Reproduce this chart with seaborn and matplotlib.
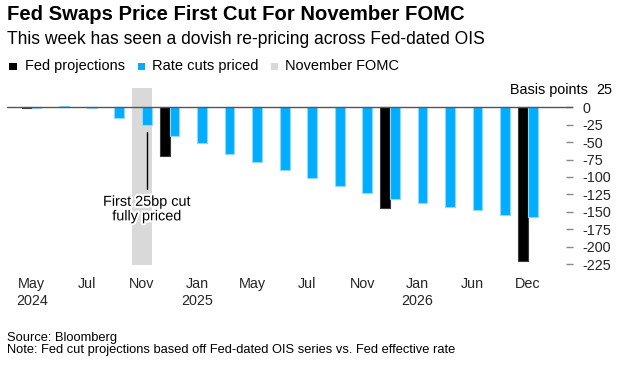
import matplotlib
matplotlib.use("Agg")
import matplotlib.pyplot as plt
import matplotlib.patheffects as pe
from matplotlib.patches import Rectangle
import seaborn as sns
import pandas as pd

# ---- data ----
meetings = ["2024-05", "2024-06", "2024-07", "2024-09", "2024-11", "2024-12",
            "2025-01", "2025-03", "2025-05", "2025-06", "2025-07", "2025-09",
            "2025-11", "2025-12", "2026-01", "2026-03", "2026-06", "2026-09",
            "2026-12"]
rate_cuts_priced = [-1, 2, -1, -15, -25, -41, -52, -67, -78, -90, -102, -113,
                    -123, -131, -138, -143, -148, -154, -157]
fed_meetings = ["2024-05", "2024-12", "2025-12", "2026-12"]
fed_projections = [-1, -70, -145, -220]
tick_labels = ["May\n2024", "Jul", "Nov", "Jan\n2025", "May", "Jul", "Nov",
               "Jan\n2026", "Jun", "Dec"]
y_ticks = [0, -25, -50, -75, -100, -125, -150, -175, -200, -225]
highlight_meeting = "2024-11"

series_names = ["Fed projections", "Rate cuts priced"]
colors = {"Fed projections": "#000000", "Rate cuts priced": "#00adff"}
band_color = "#d9d9d9"

df = pd.concat([
    pd.DataFrame({"meeting": fed_meetings, "bp": fed_projections,
                  "series": "Fed projections"}),
    pd.DataFrame({"meeting": meetings, "bp": rate_cuts_priced,
                  "series": "Rate cuts priced"}),
], ignore_index=True)

# ---- style ----
sns.set_style("white")
plt.rcParams["font.family"] = ["Liberation Sans", "DejaVu Sans"]
plt.rcParams["text.color"] = "#000000"

W, H = 620, 371
fig = plt.figure(figsize=(W / 100, H / 100), dpi=100)
fx = lambda px: px / W
fy = lambda py: 1 - py / H

ax_left, ax_right, ax_top, ax_bottom = 7, 573, 88.3, 264.6
ax = fig.add_axes([fx(ax_left), fy(ax_bottom), fx(ax_right - ax_left),
                   (ax_bottom - ax_top) / H])

sns.barplot(data=df, x="meeting", y="bp", hue="series", order=meetings,
            hue_order=series_names, palette=colors, width=0.71, dodge=True,
            saturation=1, errorbar=None, legend=False, ax=ax, zorder=3)

for p in ax.patches:
    fc = p.get_facecolor()
    if fc[0] < 0.1 and fc[2] < 0.1:
        p.set_edgecolor("#3a3a3a")
    else:
        p.set_edgecolor("#8fd9ff")
    p.set_linewidth(0.8)

hi = meetings.index(highlight_meeting)
ax.axvspan(hi - 0.352, hi + 0.352, color=band_color, zorder=0, lw=0)
ax.axhline(0, color="#555555", lw=1.0, zorder=4)

ax.set_xlim(-0.896, 19.64)
ax.set_ylim(-225.6, 27.1)

# x axis
ax.set_xticks(range(0, len(meetings), 2))
ax.set_xticklabels(tick_labels, fontsize=10.4, linespacing=1.25)
ax.tick_params(axis="x", direction="out", length=5, width=1, color="#777777",
               pad=4)
ax.set_xlabel("")

# y axis on right
ax.yaxis.tick_right()
ax.set_yticks(y_ticks)
ax.set_yticklabels([str(v) for v in y_ticks], fontsize=10.4, ha="left")
ax.tick_params(axis="y", direction="in", length=5, width=1, color="#888888",
               pad=6.5)
ax.set_ylabel("")
for s in ax.spines.values():
    s.set_visible(False)

# top label "Basis points  25"
fig.text(fx(612.5), fy(89.8), "25", ha="right", va="center", fontsize=10.4)
fig.text(fx(588), fy(89.8), "Basis points", ha="right", va="center",
         fontsize=10.4)

# annotation
bx = hi + 0.1775
ax.plot([bx, bx], [-36, -117], color="#000000", lw=1, zorder=5)
ax.text(bx, -146, "First 25bp cut\nfully priced", ha="center", va="center",
        fontsize=10.4, linespacing=1.05, zorder=6,
        path_effects=[pe.withStroke(linewidth=3, foreground="white")])

# header
fig.canvas.draw()
r = fig.canvas.get_renderer()

def fit(t, target_w):
    w = t.get_window_extent(r).width
    t.set_fontsize(t.get_fontsize() * target_w / w)

t1 = fig.text(fx(7.3), fy(15), "Fed Swaps Price First Cut For November FOMC",
              fontsize=13, fontweight="bold", va="center", ha="left")
t2 = fig.text(fx(7.3), fy(39.8), "This week has seen a dovish re-pricing across Fed-dated OIS",
              fontsize=12, va="center", ha="left")
fit(t1, 456)
fit(t2, 481)

leg = [("Fed projections", "#000000", 9.3, 25, 99),
       ("Rate cuts priced", "#00adff", 137.7, 151.7, 106),
       ("November FOMC", band_color, 270.5, 285, 113.3)]
for name, c, sx, tx, tw in leg:
    fig.add_artist(Rectangle((fx(sx), fy(70)), fx(7.5), 7.5 / H,
                             transform=fig.transFigure, color=c, lw=0))
    t = fig.text(fx(tx), fy(66.3), name, fontsize=10.4, va="center", ha="left")
    fit(t, tw)

s1 = fig.text(fx(7.3), fy(338.5), "Source: Bloomberg", fontsize=9,
              va="center", ha="left")
s2 = fig.text(fx(7.3), fy(350.5),
              "Note: Fed cut projections based off Fed-dated OIS series vs. Fed effective rate",
              fontsize=9, va="center", ha="left")
fit(s1, 110)
fit(s2, 452)

fig.savefig("out.png", dpi=100, facecolor="white")
